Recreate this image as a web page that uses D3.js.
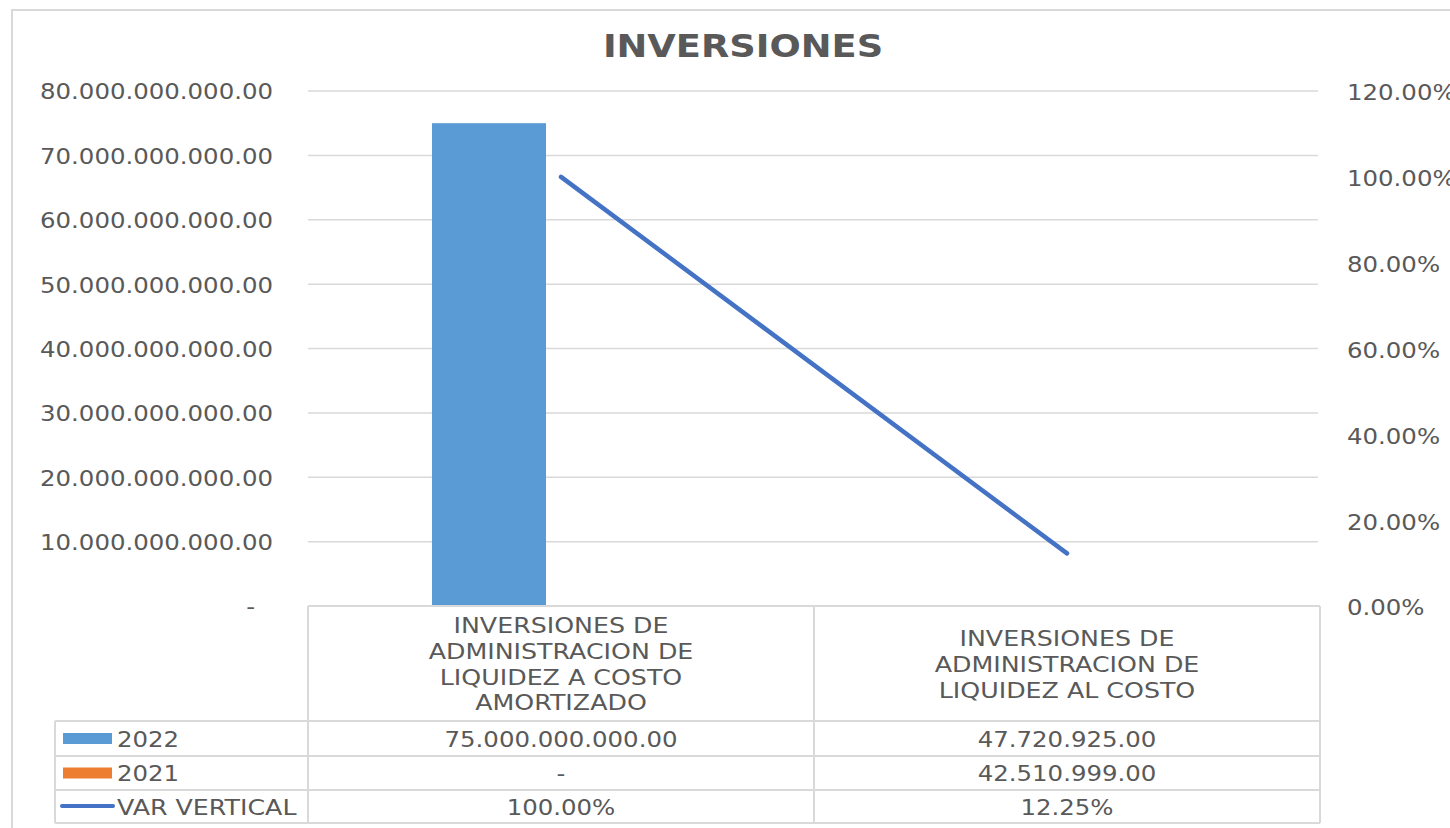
<!DOCTYPE html>
<html>
<head>
<meta charset="utf-8">
<script src="https://cdn.jsdelivr.net/npm/d3@7/dist/d3.min.js"></script>
<style>
  html, body { margin: 0; padding: 0; background: #ffffff; }
  svg { display: block; }
  text { font-family: "DejaVu Sans", Verdana, sans-serif; fill: #595959; }
</style>
</head>
<body>
<svg id="chart" width="1450" height="828"></svg>
<script>
// ---- data ----
const title = "INVERSIONES";
const categories = [
  "INVERSIONES DE ADMINISTRACION DE LIQUIDEZ A COSTO AMORTIZADO",
  "INVERSIONES DE ADMINISTRACION DE LIQUIDEZ AL COSTO"
];
const categoryLines = [
  ["INVERSIONES DE", "ADMINISTRACION DE", "LIQUIDEZ A COSTO", "AMORTIZADO"],
  ["INVERSIONES DE", "ADMINISTRACION DE", "LIQUIDEZ AL COSTO"]
];
const seriesNames = ["2022", "2021"];
const values2022 = [75000000000, 47720925];
const values2021 = [0, 42510999];
const lineName = "VAR VERTICAL";
const varVertical = [1.0, 0.1225];
const labels2022 = ["75.000.000.000.00", "47.720.925.00"];
const labels2021 = ["-", "42.510.999.00"];
const labelsVar = ["100.00%", "12.25%"];
const leftTicks = [0, 10e9, 20e9, 30e9, 40e9, 50e9, 60e9, 70e9, 80e9];
const leftTickLabels = ["-", "10.000.000.000.00", "20.000.000.000.00", "30.000.000.000.00",
  "40.000.000.000.00", "50.000.000.000.00", "60.000.000.000.00", "70.000.000.000.00", "80.000.000.000.00"];
const rightTicks = [0, 0.2, 0.4, 0.6, 0.8, 1.0, 1.2];
const rightTickLabels = ["0.00%", "20.00%", "40.00%", "60.00%", "80.00%", "100.00%", "120.00%"];

// ---- layout ----
const SX = 1.11;          // horizontal text stretch for numbers
const SX_WORDS = 1.15;    // horizontal text stretch for word labels
const FS = 22;
const plot = { left: 308, right: 1320, top: 91, bottom: 606 };
const table = { legendLeft: 55, headerBottom: 721, rowH: [35, 34, 33] };
const gridColor = "#d9d9d9";
const colors = { "2022": "#5B9BD5", "2021": "#ED7D31", line: "#4472C4" };

const svg = d3.select("#chart");

// chart frame
svg.append("rect")
  .attr("x", 12).attr("y", 10).attr("width", 1500).attr("height", 900)
  .attr("fill", "#fff").attr("stroke", "#d9d9d9").attr("stroke-width", 2);

function sText(g, x, y, str, anchor, opts = {}) {
  return g.append("text")
    .attr("transform", `translate(${x},${y}) scale(${opts.sx || SX},1)`)
    .attr("text-anchor", anchor)
    .attr("dy", "0.36em")
    .style("font-size", (opts.size || FS) + "px")
    .style("font-weight", opts.weight || "normal")
    .text(str);
}

// title
sText(svg, 743, 45, title, "middle", { size: 32, weight: "bold", sx: 1.15 });

// scales
const x = d3.scaleBand().domain(categories).range([plot.left, plot.right]).padding(0);
const x1 = d3.scaleBand().domain(seriesNames).range([0, x.bandwidth()])
  .paddingInner(0.208).paddingOuter(0.861);
const yL = d3.scaleLinear().domain([0, 80e9]).range([plot.bottom, plot.top]);
const yR = d3.scaleLinear().domain([0, 1.2]).range([plot.bottom, plot.top]);

// gridlines
svg.append("g").selectAll("line").data(leftTicks.filter(d => d > 0)).join("line")
  .attr("x1", plot.left).attr("x2", plot.right - 2)
  .attr("y1", d => yL(d)).attr("y2", d => yL(d))
  .attr("stroke", gridColor).attr("stroke-width", 1.5);

// left axis
const axL = svg.append("g").attr("transform", `translate(${plot.left},0)`)
  .call(d3.axisLeft(yL).tickValues(leftTicks)
    .tickFormat(d => leftTickLabels[leftTicks.indexOf(d)]).tickSize(0).tickPadding(0));
axL.select(".domain").remove();
axL.selectAll("text")
  .attr("x", null).attr("dy", "0.36em").attr("fill", null)
  .style("font-size", FS + "px").style("font-family", null)
  .attr("transform", d => `translate(${d === 0 ? -53 : -35},0) scale(${SX},1)`);

// right axis
const axR = svg.append("g").attr("transform", `translate(${plot.right},0)`)
  .call(d3.axisRight(yR).tickValues(rightTicks)
    .tickFormat(d => rightTickLabels[rightTicks.indexOf(d)]).tickSize(0).tickPadding(0));
axR.select(".domain").remove();
axR.selectAll("text")
  .attr("x", null).attr("dy", "0.36em").attr("fill", null)
  .style("font-size", FS + "px").style("font-family", null)
  .attr("transform", `translate(27,1) scale(${SX},1)`);

// bars
const barData = [];
categories.forEach((c, i) => {
  barData.push({ cat: c, series: "2022", value: values2022[i] });
  barData.push({ cat: c, series: "2021", value: values2021[i] });
});
svg.append("g").selectAll("rect").data(barData).join("rect")
  .attr("x", d => x(d.cat) + x1(d.series))
  .attr("width", x1.bandwidth())
  .attr("y", d => yL(d.value))
  .attr("height", d => plot.bottom - yL(d.value))
  .attr("fill", d => colors[d.series]);

// VAR VERTICAL line on secondary axis
const line = d3.line()
  .x((d, i) => x(categories[i]) + x.bandwidth() / 2)
  .y(d => yR(d));
svg.append("path").datum(varVertical)
  .attr("d", line).attr("fill", "none")
  .attr("stroke", colors.line).attr("stroke-width", 4.5).attr("stroke-linecap", "round");

// ---- data table ----
const tg = svg.append("g");
const rowY = [table.headerBottom];
table.rowH.forEach(h => rowY.push(rowY[rowY.length - 1] + h));
function hline(x1p, x2p, y) {
  tg.append("line").attr("x1", x1p).attr("x2", x2p).attr("y1", y).attr("y2", y)
    .attr("stroke", gridColor).attr("stroke-width", 2);
}
function vline(xp, y1p, y2p) {
  tg.append("line").attr("x1", xp).attr("x2", xp).attr("y1", y1p).attr("y2", y2p)
    .attr("stroke", gridColor).attr("stroke-width", 2);
}
hline(plot.left, plot.right, plot.bottom);
rowY.forEach(y => hline(table.legendLeft, plot.right, y));
vline(table.legendLeft, rowY[0], rowY[rowY.length - 1]);
vline(plot.left, plot.bottom, rowY[rowY.length - 1]);
categories.forEach(c => vline(x(c) + x.bandwidth(), plot.bottom, rowY[rowY.length - 1]));

// header category labels
const lineH = 25.7;
categories.forEach((c, i) => {
  const lines = categoryLines[i];
  const cy = (plot.bottom + table.headerBottom) / 2 + 0.5;
  lines.forEach((ln, j) => {
    sText(tg, x(c) + x.bandwidth() / 2, cy + (j - (lines.length - 1) / 2) * lineH, ln, "middle",
      { sx: SX_WORDS });
  });
});

// rows
const rows = [
  { name: "2022", type: "bar", color: colors["2022"], labels: labels2022 },
  { name: "2021", type: "bar", color: colors["2021"], labels: labels2021 },
  { name: lineName, type: "line", color: colors.line, labels: labelsVar }
];
rows.forEach((r, k) => {
  const cy = (rowY[k] + rowY[k + 1]) / 2 + 0.5;
  if (r.type === "bar") {
    tg.append("rect").attr("x", 63).attr("y", cy - 6).attr("width", 49).attr("height", 11)
      .attr("fill", r.color);
  } else {
    tg.append("line").attr("x1", 62).attr("x2", 113).attr("y1", cy - 1).attr("y2", cy - 1)
      .attr("stroke", r.color).attr("stroke-width", 4).attr("stroke-linecap", "round");
  }
  sText(tg, 117, cy, r.name, "start", { sx: r.type === "line" ? SX_WORDS : SX });
  categories.forEach((c, i) => {
    sText(tg, x(c) + x.bandwidth() / 2, cy, r.labels[i], "middle");
  });
});
</script>
</body>
</html>
